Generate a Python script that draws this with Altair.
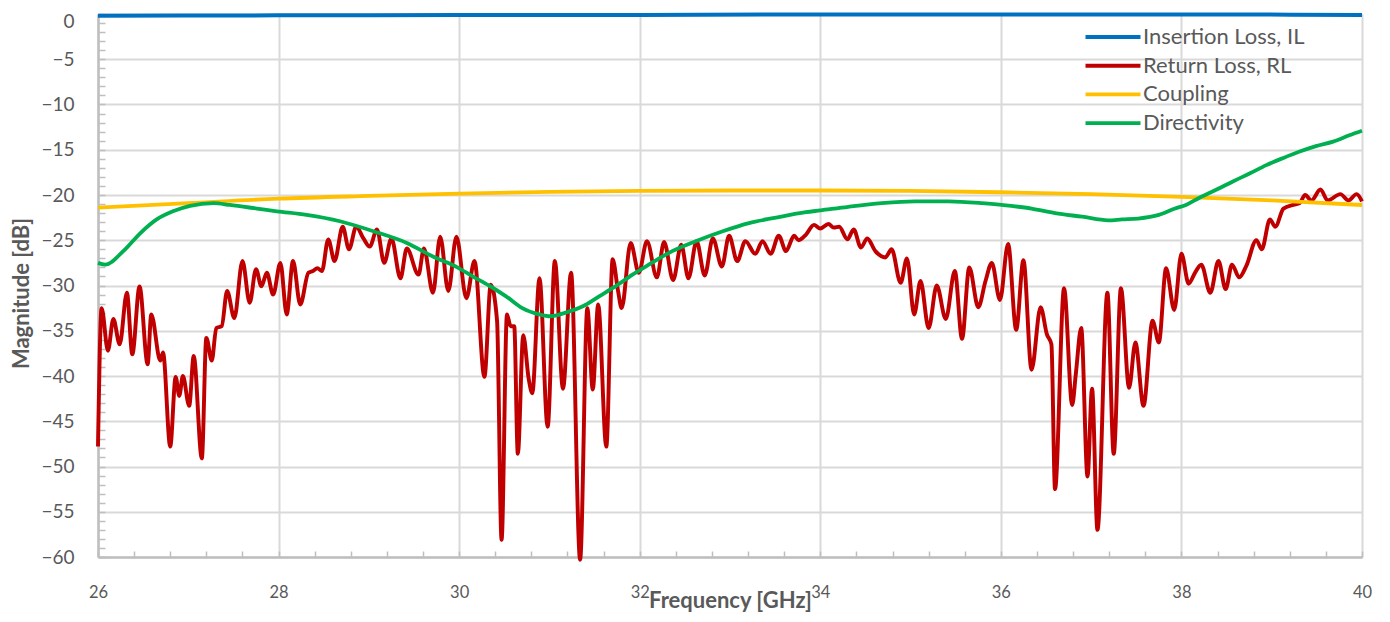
import altair as alt
import pandas as pd

# ---------------- data ----------------
series_names = ["Insertion Loss, IL", "Return Loss, RL", "Coupling", "Directivity"]
series_colors = ["#0070C0", "#C00000", "#FFC000", "#00B050"]

freq_il = [26, 28, 30, 32, 34, 36, 38, 40]
il_db = [-0.2, -0.15, -0.12, -0.1, -0.05, -0.05, -0.05, -0.1]

freq_cpl = [26, 27, 28, 29, 30, 31, 32, 33, 34, 35, 36, 37, 38, 39, 40]
cpl_db = [-21.4, -20.9, -20.4, -20.1, -19.85, -19.65, -19.55, -19.5, -19.5,
          -19.55, -19.7, -19.9, -20.2, -20.6, -21.1]

freq_rl = [26.00, 26.04, 26.11, 26.17, 26.24, 26.32, 26.38, 26.46, 26.55, 26.59,
           26.69, 26.72, 26.80, 26.86, 26.90, 26.94, 27.01, 27.06, 27.15, 27.20,
           27.26, 27.31, 27.37, 27.43, 27.51, 27.60, 27.68, 27.75, 27.81, 27.87,
           27.94, 28.02, 28.09, 28.16, 28.24, 28.33, 28.38, 28.43, 28.48, 28.55,
           28.62, 28.71, 28.78, 28.86, 28.94, 29.01, 29.09, 29.17, 29.25, 29.35,
           29.42, 29.55, 29.61, 29.71, 29.79, 29.88, 29.97, 30.08, 30.17, 30.28,
           30.35, 30.42, 30.47, 30.53, 30.57, 30.61, 30.65, 30.71, 30.77, 30.81,
           30.89, 30.98, 31.06, 31.15, 31.24, 31.34, 31.42, 31.48, 31.54, 31.63,
           31.70, 31.76, 31.80, 31.90, 31.99, 32.08, 32.19, 32.27, 32.37, 32.46,
           32.54, 32.63, 32.72, 32.81, 32.91, 32.99, 33.08, 33.17, 33.28, 33.36,
           33.45, 33.54, 33.62, 33.71, 33.76, 33.84, 33.93, 34.00, 34.09, 34.15,
           34.21, 34.30, 34.37, 34.45, 34.52, 34.61, 34.72, 34.79, 34.89, 34.96,
           35.04, 35.11, 35.20, 35.29, 35.39, 35.49, 35.57, 35.65, 35.75, 35.83,
           35.90, 35.99, 36.08, 36.17, 36.25, 36.34, 36.44, 36.51, 36.56, 36.60,
           36.70, 36.79, 36.83, 36.89, 36.96, 37.01, 37.07, 37.18, 37.25, 37.33,
           37.42, 37.49, 37.58, 37.68, 37.75, 37.83, 37.92, 38.00, 38.08, 38.15,
           38.22, 38.32, 38.41, 38.49, 38.56, 38.64, 38.72, 38.83, 38.89, 38.98,
           39.04, 39.13, 39.24, 39.31, 39.37, 39.44, 39.54, 39.62, 39.76, 39.85,
           39.94, 40.00]
rl_db = [-47.8, -32.5, -37.2, -33.7, -36.5, -30.8, -37.6, -30.1, -38.7, -33.2,
         -38.3, -37.4, -47.8, -40.1, -42.2, -40.0, -43.3, -37.8, -49.1, -35.8,
         -38.3, -34.7, -34.5, -30.6, -33.6, -27.3, -31.9, -28.2, -30.1, -28.6,
         -31.0, -27.5, -33.2, -27.3, -32.1, -28.6, -28.4, -28.1, -28.4, -24.9,
         -27.3, -23.5, -26.0, -23.5, -24.8, -25.7, -23.8, -27.5, -24.8, -29.2,
         -25.9, -28.8, -25.9, -30.8, -24.6, -30.6, -24.6, -31.4, -27.3, -40.1,
         -29.9, -33.9, -58.1, -33.2, -34.5, -34.5, -48.6, -35.5, -40.3, -41.9,
         -29.2, -45.6, -27.3, -41.4, -28.6, -60.3, -32.5, -41.5, -32.1, -47.8,
         -27.1, -30.6, -32.5, -25.3, -28.6, -25.1, -29.1, -25.2, -29.4, -25.5,
         -29.2, -25.1, -28.9, -24.8, -27.9, -24.5, -27.3, -25.1, -26.5, -25.1,
         -26.5, -24.5, -26.2, -24.5, -25.0, -24.4, -23.3, -23.7, -23.2, -23.6,
         -23.5, -24.9, -23.8, -25.8, -24.8, -26.2, -26.9, -26.0, -29.7, -27.0,
         -33.2, -29.5, -34.7, -30.0, -33.7, -28.4, -35.9, -28.0, -32.4, -29.5,
         -27.5, -31.6, -25.4, -34.9, -27.2, -39.3, -32.4, -35.4, -36.5, -52.5,
         -30.3, -43.2, -39.8, -34.7, -51.1, -41.4, -57.0, -30.8, -48.6, -30.3,
         -41.3, -36.3, -43.3, -33.9, -36.3, -28.1, -32.7, -26.5, -29.8, -28.6,
         -27.7, -30.8, -27.3, -30.4, -27.7, -29.1, -27.8, -25.0, -26.0, -22.7,
         -23.5, -21.5, -21.1, -20.9, -20.0, -20.6, -19.4, -20.6, -19.9, -20.6,
         -19.9, -20.7]

freq_dir = [26.00, 26.08, 26.28, 26.47, 26.65, 26.83, 27.02, 27.28, 27.46, 27.76,
            27.98, 28.31, 28.68, 29.05, 29.42, 29.71, 29.98, 30.15, 30.33, 30.52,
            30.70, 30.89, 31.01, 31.18, 31.37, 31.55, 31.73, 31.92, 32.10, 32.36,
            32.62, 32.92, 33.21, 33.51, 33.84, 34.00, 34.31, 34.68, 35.05, 35.42,
            35.79, 36.01, 36.34, 36.60, 36.90, 37.19, 37.34, 37.52, 37.75, 37.93,
            38.05, 38.20, 38.39, 38.57, 38.76, 38.94, 39.13, 39.31, 39.49, 39.68,
            39.86, 40.00]
dir_db = [-27.5, -27.7, -26.2, -24.2, -22.7, -21.8, -21.2, -20.9, -21.1, -21.5,
          -21.8, -22.2, -22.9, -24.0, -25.3, -26.8, -28.0, -29.0, -30.0, -31.2,
          -32.5, -33.2, -33.4, -33.0, -32.3, -31.2, -30.1, -28.8, -27.7, -26.2,
          -25.1, -24.0, -23.1, -22.5, -21.9, -21.7, -21.3, -20.9, -20.7, -20.7,
          -20.9, -21.1, -21.5, -22.0, -22.4, -22.8, -22.7, -22.6, -22.2, -21.5,
          -21.1, -20.3, -19.4, -18.5, -17.6, -16.7, -15.9, -15.2, -14.6, -14.1,
          -13.4, -12.9]

x_major = [26, 28, 30, 32, 34, 36, 38, 40]
y_major = [-60, -55, -50, -45, -40, -35, -30, -25, -20, -15, -10, -5, 0]

# ---------------- table ----------------
rows = []
for name, fs, vs in [(series_names[0], freq_il, il_db),
                     (series_names[1], freq_rl, rl_db),
                     (series_names[2], freq_cpl, cpl_db),
                     (series_names[3], freq_dir, dir_db)]:
    for f, v in zip(fs, vs):
        rows.append({"freq": f, "mag": v, "series": name})
df = pd.DataFrame(rows)

x_minor = [round(26 + 0.4 * i, 2) for i in range(36)]
y_minor = list(range(-60, 1))

FONT = "Lato"
TXT = "#595959"
GRID = "#D9D9D9"
AXIS = "#BFBFBF"

x_scale = alt.Scale(domain=[26, 40], nice=False, zero=False)
y_scale = alt.Scale(domain=[-60, 0], nice=False, zero=False)

lines = alt.Chart(df).mark_line(interpolate="monotone").encode(
    x=alt.X("freq:Q", scale=x_scale,
            axis=alt.Axis(values=x_major, title="Frequency [GHz]", grid=True,
                          ticks=False, domain=True, labelPadding=40,
                          labelBaseline="alphabetic", labelFontSize=16.5,
                          labelFlush=False,
                          titleY=50, titleBaseline="alphabetic",
                          orient="bottom")),
    y=alt.Y("mag:Q", scale=y_scale,
            axis=alt.Axis(values=y_major, title="Magnitude [dB]", grid=True,
                          ticks=False, domain=True, labelPadding=24,
                          labelFontSize=19, labelFlush=False,
                          labelOffset={"condition": {"test": "datum.value === 0",
                                                     "value": 7},
                                       "value": 0},
                          titleX=-70, titleY=279,
                          titleBaseline="alphabetic", orient="left")),
    color=alt.Color("series:N",
                    scale=alt.Scale(domain=series_names, range=series_colors),
                    legend=alt.Legend(title=None, orient="none", legendX=1004,
                                      legendY=12, symbolType="M-5.5,0H5.5",
                                      symbolSize=100, symbolStrokeWidth=4,
                                      labelOffset=19, labelFontSize=22,
                                      labelFont=FONT, labelColor=TXT,
                                      labelLimit=400, rowPadding=6.7,
                                      padding=0)),
    strokeWidth=alt.StrokeWidth("series:N",
                                scale=alt.Scale(domain=series_names,
                                                range=[4, 3.8, 3, 4]),
                                legend=None),
)

minor = alt.Chart(df).mark_point(opacity=0).encode(
    x=alt.X("freq:Q", scale=x_scale,
            axis=alt.Axis(values=x_minor, labels=False, grid=False, domain=False,
                          ticks=True, tickSize=6, tickWidth=1.5, tickColor=AXIS,
                          offset=-6, title=None, orient="bottom")),
    y=alt.Y("mag:Q", scale=y_scale,
            axis=alt.Axis(values=y_minor, labels=False, grid=False, domain=False,
                          ticks=True, tickSize=7, tickWidth=1.5, tickColor=AXIS,
                          offset=-7, title=None, orient="left")),
)

chart = (
    alt.layer(lines, minor)
    .resolve_axis(x="independent", y="independent")
    .properties(width=1264, height=543,
                autosize=alt.AutoSizeParams(type="none"),
                padding={"left": 90, "top": 6, "right": 20, "bottom": 70},
                background="white")
    .configure_axis(labelFont=FONT, labelColor=TXT, titleFont=FONT,
                    titleFontSize=22, titleFontWeight="bold", titleColor=TXT,
                    gridColor=GRID, gridWidth=2, domainColor=AXIS, domainWidth=2.5)
    .configure_view(stroke=None)
)

chart.save("out.html", embed_options={"renderer": "svg", "actions": False})
